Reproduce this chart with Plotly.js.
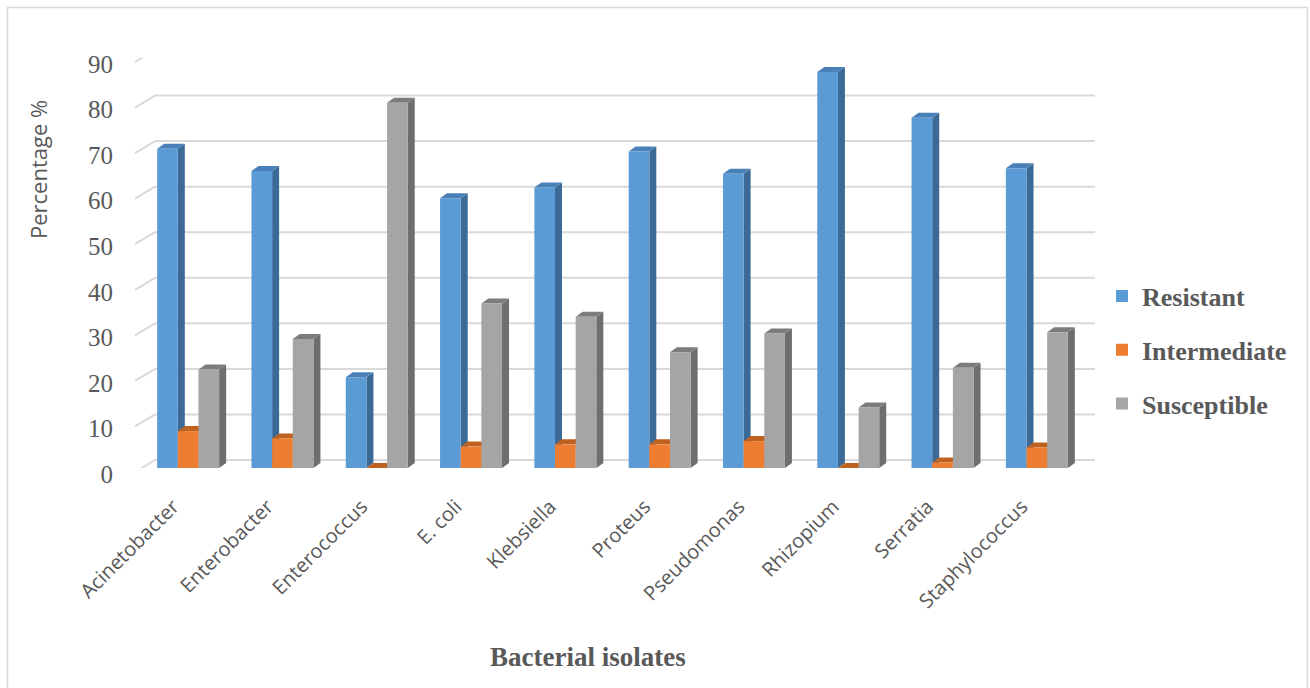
<!DOCTYPE html>
<html><head><meta charset="utf-8">
<script src="https://cdn.plot.ly/plotly-3.0.1.min.js"></script>
<style>html,body{margin:0;padding:0;background:#fff}#chart{width:1310px;height:688px}</style>
</head><body><div id="chart"></div>
<script>
// ---- data ----
const categories = ['Acinetobacter','Enterobacter','Enterococcus','E. coli','Klebsiella','Proteus','Pseudomonas','Rhizopium','Serratia','Staphylococcus'];
const resistant    = [70.1, 65.2, 19.9, 59.2, 61.6, 69.5, 64.6, 86.9, 76.9, 65.8];
const intermediate = [8.1, 6.5, 0, 4.7, 5.2, 5.2, 5.9, 0, 1.2, 4.5];
const susceptible  = [21.6, 28.3, 80.2, 36.1, 33.2, 25.4, 29.5, 13.3, 22.0, 29.8];
const seriesNames = ['Resistant','Intermediate','Susceptible'];
const yTickVals = [0,10,20,30,40,50,60,70,80,90];

// ---- styling / geometry ----
const W = 1310, H = 688;
const M = {l:135, r:215, t:58, b:220};
const paperW = W - M.l - M.r, paperH = H - M.t - M.b;
const xDom = [(141-135)/paperW, (1084-135)/paperW];
const plotPxW = (xDom[1]-xDom[0])*paperW;
const yMax = 90;
const pxPerCat = plotPxW / categories.length;
const pxPerUnit = paperH / yMax;
const bargap = 0.343;
const barW = (1-bargap)/3;
const groupW = 1-bargap;
const depth = [7, 5];
const frontColors = ['#5B9BD5','#ED7D31','#A5A5A5'];
const sideColors  = ['#3C6A96','#AE5A22','#6E6E6E'];
const topColors   = ['#4A80B8','#C0621F','#7C7C7C'];
const gridColor = '#D9D9D9';
const textColor = '#595959';
const seriesVals = [resistant, intermediate, susceptible];
const idx = categories.map((c,i)=>i);

const traces = seriesVals.map((vals,s)=>({
  type:'bar', x: idx, y: vals, name: seriesNames[s], legendgroup: 'g'+s,
  marker:{color: frontColors[s], line:{width:0}}, hoverinfo:'x+y+name'
}));

const shapes = [];
// back wall gridlines and diagonal floor ticks
const backX0 = (155-135)/paperW, backX1 = (1095-135)/paperW;
yTickVals.forEach(v=>{
  shapes.push({type:'line', xref:'paper', yref:'y', ysizemode:'pixel', yanchor:v, x0:backX0, x1:backX1, y0:8, y1:8, line:{color:gridColor, width:2}, layer:'below'});
  shapes.push({type:'line', xref:'paper', yref:'y', ysizemode:'pixel', yanchor:v, x0:0, x1:backX0, y0:-4, y1:8, line:{color:gridColor, width:2}, layer:'below'});
});
// 3D side and top faces
const dx = depth[0]/pxPerCat, dy = depth[1]/pxPerUnit;
categories.forEach((c,i)=>{
  seriesVals.forEach((vals,s)=>{
    const v = vals[i];
    const xl = i - groupW/2 + s*barW, xr = xl + barW;
    shapes.push({type:'path', xref:'x', yref:'y', layer:'between',
      path:`M${xr},0 L${xr+dx},${dy} L${xr+dx},${v+dy} L${xr},${v} Z`,
      fillcolor: sideColors[s], line:{width:0}});
    shapes.push({type:'path', xref:'x', yref:'y', layer:'between',
      path:`M${xl},${v} L${xr},${v} L${xr+dx},${v+dy} L${xl+dx},${v+dy} Z`,
      fillcolor: topColors[s], line:{width:0}});
  });
});
// outer chart border
const px2x = p => (p - M.l)/paperW, px2y = p => (H - M.b - p)/paperH;
shapes.push({type:'rect', xref:'paper', yref:'paper', x0:px2x(7.5), x1:px2x(1307.5), y0:px2y(720), y1:px2y(7.5), line:{color:gridColor, width:1.5}, layer:'below'});

const layout = {
  width: W, height: H, margin: M,
  paper_bgcolor:'#FFFFFF', plot_bgcolor:'rgba(0,0,0,0)',
  barmode:'group', bargap: bargap, bargroupgap: 0,
  showlegend:true,
  legend:{x: px2x(1102), xanchor:'left', y: px2y(350), yanchor:'middle', tracegroupgap: 17,
    font:{family:'Liberation Serif', size:26, color:textColor, weight:'bold'}, bgcolor:'rgba(0,0,0,0)'},
  xaxis:{domain: xDom, range:[-0.5, categories.length-0.5], tickmode:'array', tickvals: idx, ticktext: categories,
    tickangle:-45, showgrid:false, zeroline:false, showline:false, ticks:'',
    ticklabelshift:-15, ticklabelstandoff:22,
    tickfont:{family:'Open Sans', size:20, color:textColor}, fixedrange:true},
  yaxis:{range:[0, yMax], tickmode:'array', tickvals: yTickVals, showgrid:false, zeroline:false, showline:false, ticks:'',
    ticklabelshift:6, ticklabelstandoff: 27,
    tickfont:{family:'Liberation Serif', size:25, color:textColor}, fixedrange:true},
  shapes: shapes,
  annotations:[
    {text:'Bacterial isolates', xref:'paper', yref:'paper', x: px2x(588), y: px2y(657), xanchor:'center', yanchor:'middle', showarrow:false,
     font:{family:'Liberation Serif', size:27, color:textColor, weight:'bold'}},
    {text:'Percentage %', xref:'paper', yref:'paper', x: px2x(38), y: px2y(170), xanchor:'center', yanchor:'middle', showarrow:false, textangle:-90,
     font:{family:'Open Sans', size:22, color:textColor}}
  ]
};
Plotly.newPlot('chart', traces, layout, {displayModeBar:false, staticPlot:true});
</script></body></html>
